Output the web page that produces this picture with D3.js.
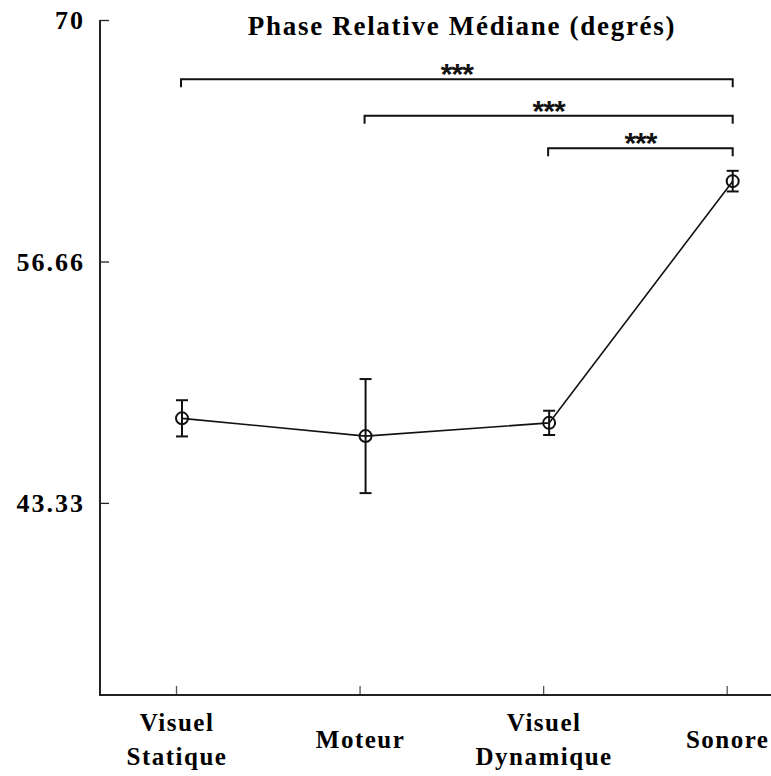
<!DOCTYPE html>
<html><head><meta charset="utf-8">
<script src="https://cdn.jsdelivr.net/npm/d3@7"></script>
<style>body{margin:0;background:#fff}svg{display:block}</style>
</head><body>
<svg id="c" width="771" height="776"></svg>
<script>
const categories = [["Visuel","Statique"],["Moteur"],["Visuel","Dynamique"],["Sonore"]];
const catKeys = ["VS","M","VD","S"];
const means = [48.0, 47.02, 47.75, 61.1];
const errors = [1.0, 3.15, 0.67, 0.57];
const yTicks = [70, 56.66, 43.33];
const yTickLabels = ["70","56.66","43.33"];
const comparisons = [["VS","S","***"],["M","S","***"],["VD","S","***"]];
const title = "Phase Relative Médiane (degrés)";

const svg = d3.select("#c");
const serif = "'Liberation Serif', 'Times New Roman', serif";
const x = d3.scalePoint().domain(catKeys).range([176, 726.7]);
const y = d3.scaleLinear().domain([32.72, 70]).range([695, 20]);
const off = 6;

// axes
const yAxis = d3.axisRight(y).tickValues(yTicks).tickSize(9).tickFormat("");
const gy = svg.append("g").attr("transform","translate(100,0)").call(yAxis);
gy.select(".domain").remove();
gy.selectAll(".tick line").attr("stroke","#222").attr("stroke-width",1.3);
svg.append("line").attr("x1",100).attr("x2",100).attr("y1",y(70)).attr("y2",695).attr("stroke","#222").attr("stroke-width",2);

const xAxis = d3.axisTop(x).tickSize(9).tickFormat("");
const gx = svg.append("g").attr("transform","translate(0,695)").call(xAxis);
gx.select(".domain").remove();
gx.selectAll(".tick line").attr("stroke","#555").attr("stroke-width",1.3);
svg.append("line").attr("x1",99).attr("x2",771).attr("y1",695).attr("y2",695).attr("stroke","#222").attr("stroke-width",2);

// y labels
svg.selectAll(".ylab").data(yTicks).enter().append("text")
  .attr("x",85).attr("y",d=>y(d)+9).attr("text-anchor","end")
  .attr("font-family",serif).attr("font-weight","bold").attr("font-size",26)
  .attr("letter-spacing",2)
  .text((d,i)=>yTickLabels[i]);

// x labels
categories.forEach((lines,i)=>{
  const t = svg.append("text").attr("text-anchor","middle")
    .attr("font-family",serif).attr("font-weight","bold").attr("font-size",25).attr("letter-spacing",1.5);
  const y0 = lines.length===1 ? 748 : 731;
  lines.forEach((l,j)=>{
    t.append("tspan").attr("x",x(catKeys[i])+1).attr("y",y0+j*34).text(l);
  });
});

// title
svg.append("text").attr("x",462).attr("y",35).attr("text-anchor","middle")
  .attr("font-family",serif).attr("font-weight","bold").attr("font-size",27).attr("letter-spacing",1.7)
  .text(title);

// line
const line = d3.line().x((d,i)=>x(catKeys[i])+off).y(d=>y(d));
svg.append("path").datum(means).attr("d",line).attr("fill","none").attr("stroke","#111").attr("stroke-width",1.6);

// error bars
const eb = svg.selectAll(".eb").data(means).enter().append("g");
eb.append("line").attr("x1",(d,i)=>x(catKeys[i])+off).attr("x2",(d,i)=>x(catKeys[i])+off)
  .attr("y1",(d,i)=>y(d+errors[i])).attr("y2",(d,i)=>y(d-errors[i])).attr("stroke","#111").attr("stroke-width",2);
[1,-1].forEach(s=>{
  eb.append("line").attr("x1",(d,i)=>x(catKeys[i])+off-6).attr("x2",(d,i)=>x(catKeys[i])+off+6)
    .attr("y1",(d,i)=>y(d+s*errors[i])).attr("y2",(d,i)=>y(d+s*errors[i])).attr("stroke","#111").attr("stroke-width",2);
});
eb.append("circle").attr("cx",(d,i)=>x(catKeys[i])+off).attr("cy",d=>y(d)).attr("r",6)
  .attr("fill","none").attr("stroke","#111").attr("stroke-width",2);

// significance brackets
const bracketY = [79.3, 115.7, 148.3];
comparisons.forEach((c,k)=>{
  const x1 = x(c[0])+off-1, x2 = x(c[1])+off;
  const by = bracketY[k];
  svg.append("path").attr("d",`M${x1},${by+8}V${by}H${x2}V${by+8}`)
    .attr("fill","none").attr("stroke","#111").attr("stroke-width",2);
  svg.append("text").attr("x",(x1+x2)/2).attr("y",by+5).attr("text-anchor","middle")
    .attr("font-family","'Liberation Sans', Arial, sans-serif").attr("font-weight","bold").attr("font-size",30)
    .attr("letter-spacing",-1)
    .attr("fill","#111").text(c[2]);
});
</script>
</body></html>
